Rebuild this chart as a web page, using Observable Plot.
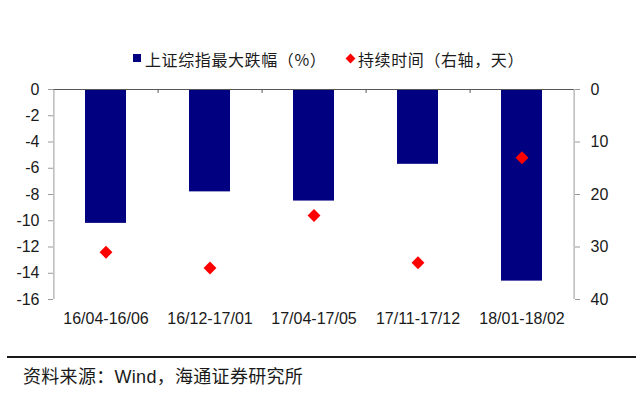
<!DOCTYPE html>
<html>
<head>
<meta charset="utf-8">
<script src="https://cdn.jsdelivr.net/npm/d3@7"></script>
<script src="https://cdn.jsdelivr.net/npm/@observablehq/plot@0.6"></script>
<style>
  body { margin: 0; background: #fff; font-family: "Liberation Sans", "Noto Sans CJK SC", sans-serif; color: #1a1a1a; }
  #wrap { width: 640px; height: 397px; position: relative; overflow: hidden; background: #fff; }
  #legend { position: relative; height: 70px; }
  #legend .lt { position: absolute; top: 49px; font-size: 16px; line-height: 20px; white-space: nowrap; font-family: "Noto Sans CJK SC", sans-serif; letter-spacing: 0.6px; }
  #legend .sw { position: absolute; display: block; }
  #chart { height: 270px; }
  #chart svg { display: block; }
  #caption { position: relative; height: 57px; }
  #caption .line { position: absolute; left: 7px; top: 16px; width: 629px; height: 2px; background: #1a1a1a; }
  #caption .txt { position: absolute; left: 23px; top: 25px; font-size: 18px; line-height: 24px; white-space: nowrap; letter-spacing: 0.3px; }
</style>
</head>
<body>
<div id="wrap">
  <div id="legend">
    <span class="sw" style="left:133px;top:54px;width:8px;height:8px;background:#000080"></span>
    <span class="lt" style="left:145px">上证综指最大跌幅（%）</span>
    <span class="sw" style="left:347px;top:55px;width:7px;height:7px;background:#ff0000;transform:rotate(45deg)"></span>
    <span class="lt" style="left:358px">持续时间（右轴，天）</span>
  </div>
  <div id="chart"></div>
  <div id="caption">
    <div class="line"></div>
    <div class="txt">资料来源：Wind，海通证券研究所</div>
  </div>
</div>
<script>
// ---- data ----
const categories = ["16/04-16/06", "16/12-17/01", "17/04-17/05", "17/11-17/12", "18/01-18/02"];
const maxDrop = [-10.2, -7.8, -8.5, -5.7, -14.6];      // 上证综指最大跌幅（%）, left axis
const durationDays = [31, 34, 24, 33, 13];             // 持续时间（天）, right axis (inverted)
const leftTicks = [0, -2, -4, -6, -8, -10, -12, -14, -16];
const rightTicks = [0, 10, 20, 30, 40];

// ---- layout ----
const W = 640, H = 270, mL = 53, mR = 66, mT = 19, mB = 41;
const step = (W - mL - mR) / categories.length;
const k = leftTicks[leftTicks.length - 1] / rightTicks[rightTicks.length - 1]; // maps days to left units

const rows = categories.map((c, i) => ({ cat: c, drop: maxDrop[i], days: durationDays[i] }));

const chart = Plot.plot({
  width: W, height: H,
  marginLeft: mL, marginRight: mR, marginTop: mT, marginBottom: mB,
  style: { fontFamily: '"Liberation Sans", "Noto Sans CJK SC", sans-serif', fontSize: "16px", color: "#1a1a1a", background: "#fff" },
  x: { domain: categories, paddingInner: 0.61, paddingOuter: 0.305, label: null },
  y: { domain: [leftTicks[leftTicks.length - 1], 0], label: null },
  marks: [
    Plot.barY(rows, { x: "cat", y: "drop", fill: "#000080" }),
    Plot.ruleY([0], { stroke: "#555" }),
    Plot.ruleX(categories.slice(0, -1), { y1: 0, y2: -0.3, dx: step / 2, stroke: "#555" }),
    Plot.ruleX([categories[0]], { dx: -step / 2, stroke: "#999" }),
    Plot.ruleX([categories[categories.length - 1]], { dx: step / 2, stroke: "#999" }),
    Plot.dot(rows, { x: "cat", y: d => d.days * k, symbol: "diamond2", fill: "#ff0000", r: 5.8 }),
    Plot.axisY({ ticks: leftTicks, tickFormat: d => String(d), tickSize: 5, tickPadding: 9, stroke: "#999", fill: "#1a1a1a", fontSize: 16, label: null }),
    Plot.axisY({ anchor: "right", ticks: rightTicks.map(d => d * k), tickFormat: d => String(Math.abs(Math.round(d / k))), tickSize: 5, tickPadding: 11, stroke: "#999", fill: "#1a1a1a", fontSize: 16, label: null }),
    Plot.axisX({ tickSize: 0, tickPadding: 13, fill: "#1a1a1a", fontSize: 16, label: null })
  ]
});
document.getElementById("chart").appendChild(chart);
</script>
</body>
</html>
